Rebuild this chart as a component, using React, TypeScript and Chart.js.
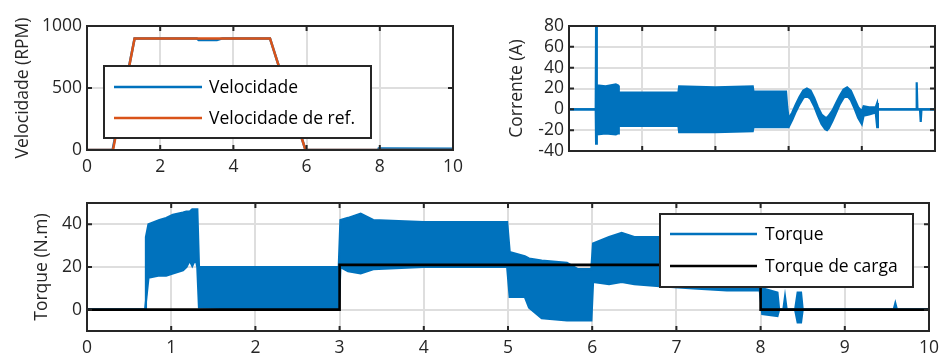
import React, { useEffect, useRef } from "react";
import { Chart, registerables } from "chart.js";

Chart.register(...registerables);

const FONT = "'Open Sans', 'Noto Sans', sans-serif";
const BLUE = "#0072BD";
const ORANGE = "#D95319";
const BLACK = "#000000";
const AXIS = "#262626";
const GRID = "#dedede";

// ---------- Velocity panel ----------
const velTime = [0, 0.7, 1.3, 3.0, 3.05, 3.55, 3.7, 5.0, 5.97, 7.95, 7.97, 10];
const velMeasured = [0, 0, 900, 900, 888, 888, 900, 900, 0, 0, 12, 10];
const velRefTime = [0, 0.71, 1.3, 5.0, 5.97, 10];
const velRef = [0, 0, 900, 900, 0, 0];
const velYTicks = [0, 500, 1000];
const velXTicks = [0, 2, 4, 6, 8, 10];

// ---------- Current panel (envelope of the measured current) ----------
const curTime = [0, 0.73, 0.74, 0.76, 1.0, 1.28, 1.34, 1.36, 2.99, 3.01, 4.0, 5.02, 5.04, 5.93, 5.96, 6.0, 6.1, 6.2, 6.3, 6.4, 6.5, 6.6, 6.7, 6.8, 6.9, 7.0, 7.05, 7.1, 7.2, 7.3, 7.4, 7.5, 7.6, 7.7, 7.8, 7.9, 8.0, 8.05, 8.2, 8.38, 8.42, 8.44, 9.49, 9.5, 9.52, 9.59, 9.61, 9.63, 10];
const curUpper = [0, 0, 80, 23, 22, 24, 23, 16, 16, 22, 21, 22, 17, 17, 3, -9, -3, 5, 12, 18, 20, 18, 11, 2, -5, -8, -8, -6, -1, 6, 13, 19, 21, 18, 10, 2, -2, 3, 2, 2, 6, 0, 0, 26, 0, 0, 0, 0, 0];
const curLower = [0, 0, -33, -24, -23, -24, -23, -16, -16, -22, -22, -21, -17, -17, -17, -17, -10, -2, 5, 11, 13, 10, 3, -6, -14, -19, -20, -18, -11, -3, 5, 11, 13, 9, 1, -8, -14, -6, -5, -3, -17, 0, 0, 0, 0, 0, -12, 0, 0];
const curYTicks = [-40, -20, 0, 20, 40, 60, 80];
const curXTicks = [0, 2, 4, 6, 8, 10];

// ---------- Torque panel (envelope of the measured torque) ----------
const torTime = [0, 0.69, 0.7, 0.73, 0.86, 0.94, 1.02, 1.14, 1.18, 1.22, 1.25, 1.29, 1.31, 1.33, 2.0, 2.99, 3.01, 3.1, 3.25, 3.4, 4.0, 4.99, 5.02, 5.2, 5.25, 5.4, 5.7, 5.83, 5.99, 6.01, 6.2, 6.35, 6.5, 6.8, 7.2, 7.6, 7.99, 8.02, 8.2, 8.22, 8.27, 8.29, 8.31, 8.41, 8.44, 8.48, 8.5, 9.58, 9.6, 9.62, 10];
const torUpper = [0, 0, 34, 40, 42, 43, 44.5, 45.5, 46, 46, 47, 47, 47, 20, 20, 20, 42, 43, 45, 42, 41, 41, 27, 25, 24, 23, 22, 19, 19, 31, 34, 36, 34, 34, 34, 33, 33, 10, 8, 0, 0, 6, 0, 0, 8, 8, 0, 0, 3, 0, 0];
const torLower = [0, 0, 0, 15, 16, 16, 17, 18.5, 20, 23, 20.5, 24, 20, 1, 0.5, 0.5, 20, 18, 17, 19, 20, 20, 6, 6, 1, -4, -5, -5, -5, 13, 12, 13, 12, 11, 10, 9, 9, -2, -3, 0, 0, 1, 0, 0, -6, -6, 0, 0, 0, 0, 0];
const loadTime = [0, 3.0, 3.0, 8.0, 8.0, 10];
const loadTorque = [0, 0, 21, 21, 0, 0];
const torYTicks = [0, 20, 40];
const torXTicks = [0, 1, 2, 3, 4, 5, 6, 7, 8, 9, 10];

const pts = (xs: number[], ys: number[]) => xs.map((x, i) => ({ x, y: ys[i] }));

// Draws the MATLAB-like axes box, inward ticks and a boxed legend
const framePlugin = {
  id: "frame",
  afterDraw(chart: any, _args: any, opts: any) {
    const { ctx, chartArea: a } = chart;
    const xs = chart.scales.x;
    const ys = chart.scales.y;
    ctx.save();
    ctx.strokeStyle = AXIS;
    ctx.lineWidth = 2;
    const tl = 5;
    ctx.beginPath();
    xs.ticks.forEach((t: any) => {
      const p = xs.getPixelForValue(t.value);
      ctx.moveTo(p, a.bottom);
      ctx.lineTo(p, a.bottom - tl);
      ctx.moveTo(p, a.top);
      ctx.lineTo(p, a.top + tl);
    });
    ys.ticks.forEach((t: any) => {
      const p = ys.getPixelForValue(t.value);
      ctx.moveTo(a.left, p);
      ctx.lineTo(a.left + tl, p);
      ctx.moveTo(a.right, p);
      ctx.lineTo(a.right - tl, p);
    });
    ctx.stroke();
    ctx.strokeRect(a.left, a.top, a.right - a.left, a.bottom - a.top);

    const lg = opts && opts.legend;
    if (lg) {
      const bx = a.left + lg.x;
      const by = a.top + lg.y;
      ctx.fillStyle = "#ffffff";
      ctx.fillRect(bx, by, lg.w, lg.h);
      ctx.lineWidth = 2;
      ctx.strokeStyle = AXIS;
      ctx.strokeRect(bx, by, lg.w, lg.h);
      ctx.font = `${lg.fontSize}px ${FONT}`;
      ctx.textBaseline = "middle";
      ctx.textAlign = "left";
      lg.items.forEach((it: any, i: number) => {
        const yy = by + lg.rows[i];
        ctx.beginPath();
        ctx.strokeStyle = it.color;
        ctx.lineWidth = it.width;
        ctx.moveTo(bx + lg.lineStart, yy);
        ctx.lineTo(bx + lg.lineEnd, yy);
        ctx.stroke();
        ctx.fillStyle = "#000000";
        ctx.fillText(it.label, bx + lg.textX, yy + 1);
      });
    }
    ctx.restore();
  },
};

function makeScales(o: any) {
  const tickFont = { family: FONT, size: 17.5 };
  return {
    x: {
      type: "linear",
      min: o.xMin,
      max: o.xMax,
      afterBuildTicks: (s: any) => {
        s.ticks = o.xTicks.map((v: number) => ({ value: v }));
      },
      afterFit: (s: any) => {
        s.height = o.xHeight;
      },
      grid: { color: GRID, lineWidth: 2, drawTicks: false },
      border: { display: false },
      ticks: {
        display: o.xLabels,
        font: tickFont,
        color: AXIS,
        padding: 7,
        maxRotation: 0,
        autoSkip: false,
        callback: (v: any) => String(v),
      },
    },
    y: {
      type: "linear",
      min: o.yMin,
      max: o.yMax,
      afterBuildTicks: (s: any) => {
        s.ticks = o.yTicks.map((v: number) => ({ value: v }));
      },
      afterFit: (s: any) => {
        s.width = o.yWidth;
      },
      grid: { color: GRID, lineWidth: 2, drawTicks: false },
      border: { display: false },
      ticks: {
        font: tickFont,
        color: AXIS,
        padding: 5,
        autoSkip: false,
        callback: (v: any) => String(v),
      },
      title: {
        display: true,
        text: o.yTitle,
        font: { family: FONT, size: 17.5 },
        color: AXIS,
        padding: { top: o.titlePad, bottom: 0 },
      },
    },
  };
}

function Panel(props: { left: number; top: number; width: number; height: number; config: any }) {
  const ref = useRef<HTMLCanvasElement | null>(null);
  useEffect(() => {
    if (!ref.current) return;
    const chart = new Chart(ref.current, props.config);
    return () => chart.destroy();
  }, []);
  return (
    <canvas
      ref={ref}
      width={props.width}
      height={props.height}
      style={{ position: "absolute", left: props.left, top: props.top, width: props.width, height: props.height }}
    />
  );
}

const line = (data: any, color: string, width: number, extra: any = {}) => ({
  data,
  borderColor: color,
  backgroundColor: color,
  borderWidth: width,
  pointRadius: 0,
  tension: 0,
  fill: false,
  ...extra,
});

const baseOptions = (padding: any, scales: any, legend: any) => ({
  responsive: false,
  animation: false,
  events: [],
  layout: { padding },
  plugins: { legend: { display: false }, tooltip: { enabled: false }, frame: { legend } },
  scales,
});

const velConfig = {
  type: "line",
  data: {
    datasets: [
      line(pts(velRefTime, velRef), ORANGE, 2.5, { order: 0 }),
      line(pts(velTime, velMeasured), BLUE, 2.5, { order: 1 }),
    ],
  },
  options: baseOptions(
    { top: 26, right: 15, left: 0, bottom: 0 },
    makeScales({ xMin: 0, xMax: 10, xTicks: velXTicks, xHeight: 30, xLabels: true, yMin: 0, yMax: 1000, yTicks: velYTicks, yWidth: 87, yTitle: "Velocidade (RPM)", titlePad: 13 }),
    {
      x: 17, y: 40, w: 267, h: 72, fontSize: 17.5, lineStart: 10, lineEnd: 98, textX: 105, rows: [21, 52],
      items: [
        { label: "Velocidade", color: BLUE, width: 2.5 },
        { label: "Velocidade de ref.", color: ORANGE, width: 2.5 },
      ],
    }
  ),
  plugins: [framePlugin],
};

const curConfig = {
  type: "line",
  data: {
    datasets: [
      line(pts(curTime, curUpper), BLUE, 2.2, { fill: "+1" }),
      line(pts(curTime, curLower), BLUE, 2.2),
    ],
  },
  options: baseOptions(
    { top: 26, right: 11, left: 0, bottom: 0 },
    makeScales({ xMin: 0, xMax: 10, xTicks: curXTicks, xHeight: 29, xLabels: false, yMin: -40, yMax: 80, yTicks: curYTicks, yWidth: 99, yTitle: "Corrente (A)", titlePad: 37 }),
    null
  ),
  plugins: [framePlugin],
};

const torConfig = {
  type: "line",
  data: {
    datasets: [
      line(pts(loadTime, loadTorque), BLACK, 2.6, { order: 0 }),
      line(pts(torTime, torUpper), BLUE, 2.2, { fill: "+1", order: 1 }),
      line(pts(torTime, torLower), BLUE, 2.2, { order: 2 }),
    ],
  },
  options: baseOptions(
    { top: 23, right: 11, left: 0, bottom: 0 },
    makeScales({ xMin: 0, xMax: 10, xTicks: torXTicks, xHeight: 25, xLabels: true, yMin: -10, yMax: 50, yTicks: torYTicks, yWidth: 87, yTitle: "Torque (N.m)", titlePad: 32 }),
    {
      x: 573, y: 11, w: 253, h: 73, fontSize: 17.5, lineStart: 10, lineEnd: 97, textX: 105, rows: [20, 52],
      items: [
        { label: "Torque", color: BLUE, width: 2.5 },
        { label: "Torque de carga", color: BLACK, width: 2.6 },
      ],
    }
  ),
  plugins: [framePlugin],
};

export default function App() {
  return (
    <div style={{ position: "absolute", left: 0, top: 0, width: 946, height: 356, background: "#ffffff", overflow: "hidden" }}>
      <Panel left={0} top={0} width={470} height={180} config={velConfig} />
      <Panel left={470} top={0} width={476} height={180} config={curConfig} />
      <Panel left={0} top={180} width={946} height={176} config={torConfig} />
    </div>
  );
}
